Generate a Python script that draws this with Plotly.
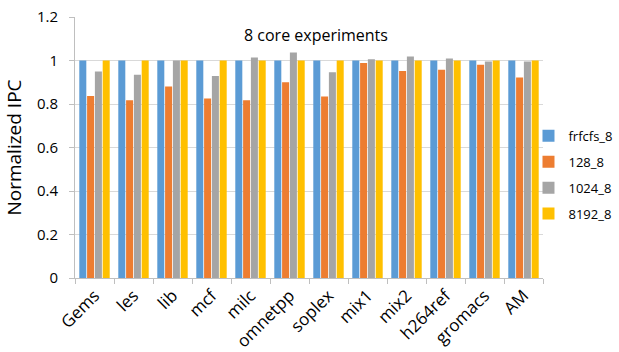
import plotly.graph_objects as go

categories = ["Gems", "les", "lib", "mcf", "milc", "omnetpp", "soplex", "mix1", "mix2", "h264ref", "gromacs", "AM"]
frfcfs_8 = [1, 1, 1, 1, 1, 1, 1, 1, 1, 1, 1, 1]
v128_8 = [0.837, 0.817, 0.881, 0.825, 0.817, 0.900, 0.835, 0.988, 0.952, 0.958, 0.980, 0.922]
v1024_8 = [0.949, 0.934, 1.0, 0.929, 1.014, 1.037, 0.946, 1.006, 1.018, 1.009, 0.995, 0.995]
v8192_8 = [1, 1, 1, 1, 1, 1, 1, 1, 1, 1, 1, 1]
series_names = ["frfcfs_8", "128_8", "1024_8", "8192_8"]
colors = ["#5B9BD5", "#ED7D31", "#A5A5A5", "#FFC000"]
y_ticks = [0, 0.2, 0.4, 0.6, 0.8, 1, 1.2]

fig = go.Figure()
for name, vals, col in zip(series_names, [frfcfs_8, v128_8, v1024_8, v8192_8], colors):
    fig.add_trace(go.Bar(x=categories, y=vals, name=name, marker_color=col,
                         marker_line_width=0, legendgroup=name))

font = "Open Sans"
fig.update_layout(
    width=619, height=352,
    margin=dict(l=75, r=76, t=17, b=74, autoexpand=False),
    paper_bgcolor="white", plot_bgcolor="white",
    barmode="group", bargap=0.2, bargroupgap=0.1,
    font=dict(family=font, size=13, color="#000000"),
    legend=dict(x=0.969, y=0.395, yanchor="middle", xanchor="left",
                font=dict(size=13), tracegroupgap=6, itemwidth=30,
                bgcolor="rgba(0,0,0,0)"),
    annotations=[dict(text="8 core experiments", x=0.515, y=1.2, xref="paper", yref="y",
                      yanchor="top", showarrow=False, yshift=-5, font=dict(size=16))],
    showlegend=True,
)
fig.update_xaxes(tickangle=-45, tickson="boundaries", ticks="outside", ticklen=5,
                 tickcolor="#BFBFBF", showline=True, linecolor="#BFBFBF",
                 tickfont=dict(size=17), automargin=False)
fig.update_yaxes(range=[0, 1.2], tickvals=y_ticks, ticktext=["0", "0.2", "0.4", "0.6", "0.8", "1", "1.2"],
                 showgrid=True, gridcolor="#D9D9D9", showline=True, linecolor="#BFBFBF",
                 ticks="outside", ticklen=5, tickcolor="#BFBFBF", zeroline=False,
                 tickfont=dict(size=15), automargin=False, ticklabelstandoff=8,
                 title=dict(text="Normalized IPC", font=dict(size=19), standoff=10))
fig.write_html("out.html", config={"displayModeBar": False},
               post_script="document.body.style.margin='0';")
